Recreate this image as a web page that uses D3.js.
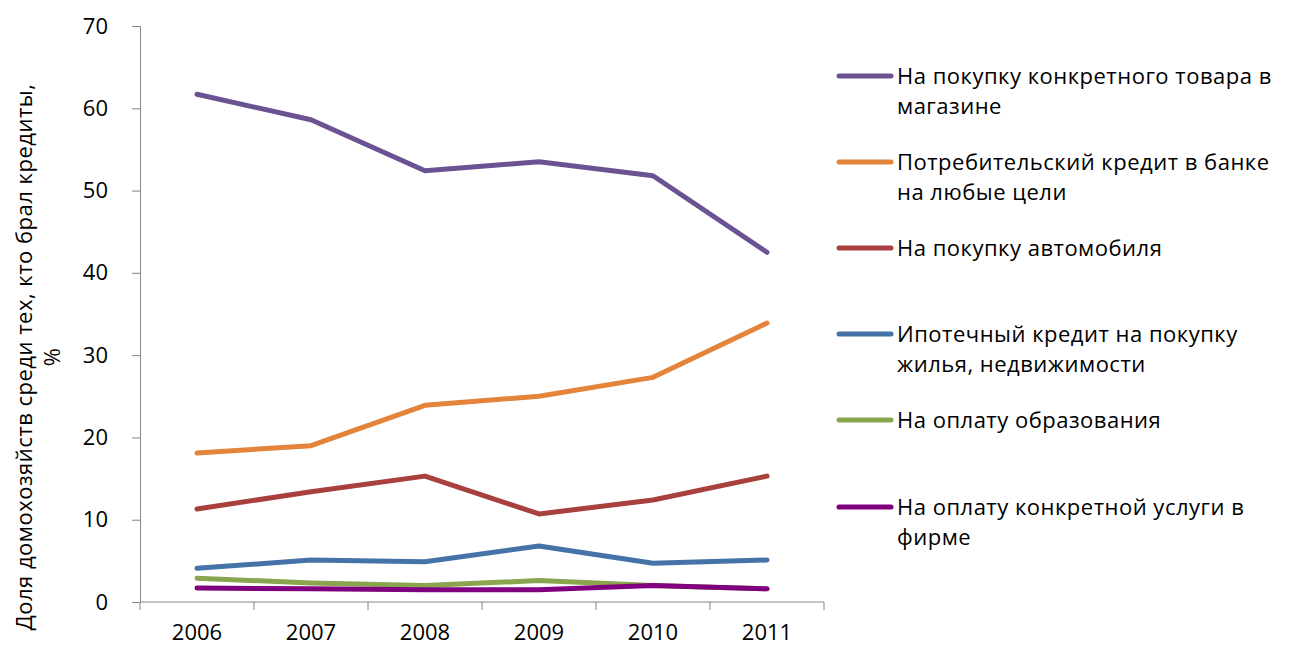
<!DOCTYPE html>
<html>
<head>
<meta charset="utf-8">
<script src="https://cdn.jsdelivr.net/npm/d3@7"></script>
<style>
  html, body { margin: 0; padding: 0; background: #fff; }
  svg text { font-family: "Open Sans", "Noto Sans", sans-serif; fill: #000; }
</style>
</head>
<body>
<svg id="chart" width="1289" height="648"></svg>
<script>
// Years on the category axis
const years = ["2006", "2007", "2008", "2009", "2010", "2011"];

// Share of households (among borrowers), %
const shopGoods    = [61.7, 58.6, 52.4, 53.5, 51.8, 42.5];
const consumerLoan = [18.1, 19.0, 23.9, 25.0, 27.3, 33.9];
const carPurchase  = [11.3, 13.4, 15.3, 10.7, 12.4, 15.3];
const mortgage     = [4.1, 5.1, 4.9, 6.8, 4.7, 5.1];
const education    = [2.9, 2.3, 2.0, 2.6, 2.0, 1.6];
const firmService  = [1.7, 1.6, 1.5, 1.5, 2.0, 1.6];

const seriesNames = [
  ["На покупку конкретного товара в", "магазине"],
  ["Потребительский кредит в банке", "на любые цели"],
  ["На покупку автомобиля"],
  ["Ипотечный кредит на покупку", "жилья, недвижимости"],
  ["На оплату образования"],
  ["На оплату конкретной услуги в", "фирме"]
];
const seriesColors = ["#6B5393", "#E3843A", "#A8413E", "#4572A7", "#89A54E", "#800080"];
const yTicks = [0, 10, 20, 30, 40, 50, 60, 70];
const yTitle = ["Доля домохозяйств среди тех, кто брал кредиты,", "%"];

const seriesValues = [shopGoods, consumerLoan, carPurchase, mortgage, education, firmService];

const svg = d3.select("#chart");
const plot = { left: 140, right: 824, top: 26, bottom: 602 };

const x = d3.scaleBand().domain(years).range([plot.left, plot.right]);
const y = d3.scaleLinear().domain([0, 70]).range([plot.bottom, plot.top]);

// Y axis
const yAxis = svg.append("g")
  .attr("transform", `translate(${plot.left},0)`)
  .call(d3.axisLeft(y).tickValues(yTicks).tickSize(8).tickPadding(24));
yAxis.select(".domain").attr("stroke", "#868686").attr("stroke-width", 1);
yAxis.selectAll(".tick line").attr("stroke", "#868686");
yAxis.selectAll(".tick text").style("font-size", "22px").attr("fill", "#000");

// X axis with ticks on category boundaries
const xAxis = svg.append("g")
  .attr("transform", `translate(0,${plot.bottom})`)
  .call(d3.axisBottom(x).tickSize(0).tickPadding(22));
xAxis.select(".domain").attr("stroke", "#868686").attr("stroke-width", 1)
  .attr("d", `M${plot.left},0H${plot.right}`);
xAxis.selectAll(".tick text").style("font-size", "22px").attr("fill", "#000");
const bounds = years.map(d => x(d)).concat([x(years[years.length - 1]) + x.bandwidth()]);
xAxis.selectAll(".boundary").data(bounds).enter().append("line")
  .attr("x1", d => d).attr("x2", d => d).attr("y1", 0).attr("y2", 8)
  .attr("stroke", "#868686");

// Series lines
const line = d3.line()
  .x((d, i) => x(years[i]) + x.bandwidth() / 2)
  .y(d => y(d));

svg.append("g").selectAll("path").data(seriesValues).enter().append("path")
  .attr("d", d => line(d))
  .attr("fill", "none")
  .attr("stroke", (d, i) => seriesColors[i])
  .attr("stroke-width", 5)
  .attr("stroke-linecap", "round")
  .attr("stroke-linejoin", "round");

// Y axis title
const yt = svg.append("text")
  .attr("transform", `translate(32,357) rotate(-90)`)
  .attr("text-anchor", "middle")
  .style("font-size", "22px")
  .style("letter-spacing", "0.5px");
yt.append("tspan").attr("x", 0).attr("dy", 0).text(yTitle[0]);
yt.append("tspan").attr("x", 0).attr("dy", 28).text(yTitle[1]);

// Legend
const legendRows = [76, 162, 248, 334, 420, 507];
const legend = svg.append("g");
seriesNames.forEach((lines, i) => {
  const g = legend.append("g").attr("transform", `translate(0,${legendRows[i]})`);
  g.append("line")
    .attr("x1", 839).attr("x2", 891).attr("y1", 0).attr("y2", 0)
    .attr("stroke", seriesColors[i]).attr("stroke-width", 5)
    .attr("stroke-linecap", "round");
  const t = g.append("text").attr("x", 897).attr("y", 8)
    .style("font-size", "22px").style("letter-spacing", "0.5px");
  lines.forEach((s, k) => {
    t.append("tspan").attr("x", 897).attr("dy", k === 0 ? 0 : 30).text(s);
  });
});
</script>
</body>
</html>
